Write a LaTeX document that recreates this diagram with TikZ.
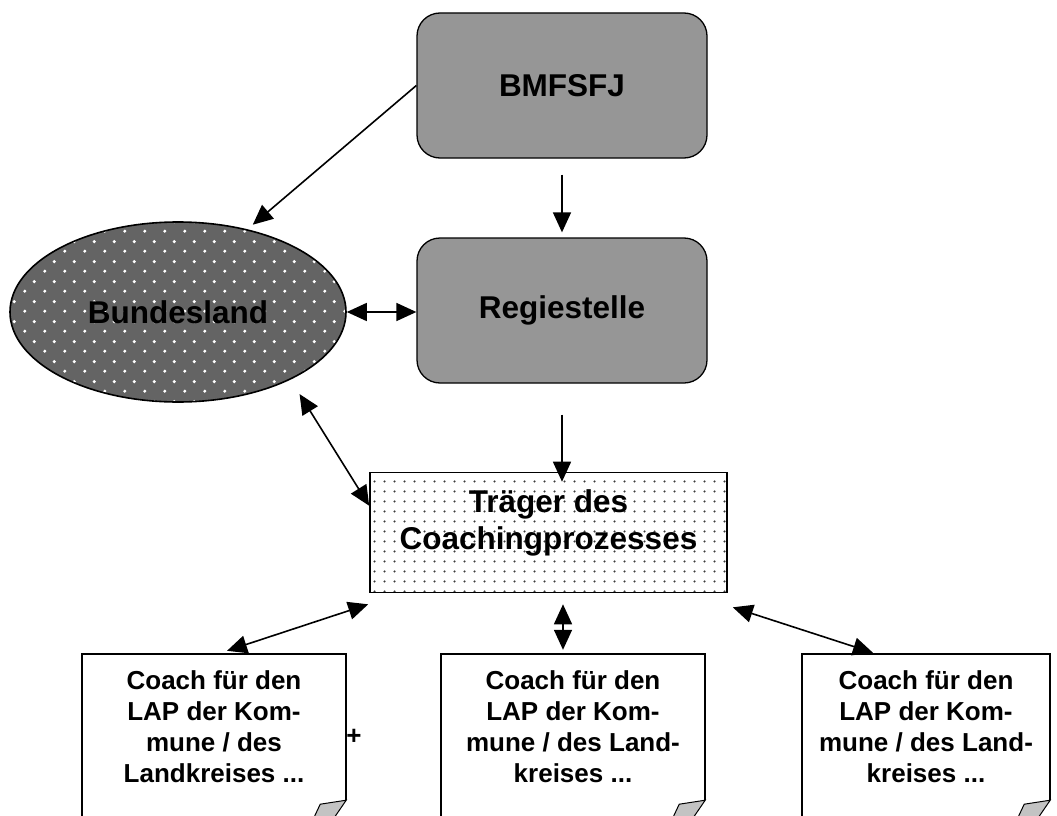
\documentclass[tikz,border=0pt]{standalone}
\usepackage{fontspec}
\setmainfont{Liberation Sans}
\usetikzlibrary{shapes.geometric,arrows.meta,calc,patterns}

\pgfdeclarepatternformonly{wdots}{\pgfqpoint{0pt}{0pt}}{\pgfqpoint{20pt}{20pt}}{\pgfqpoint{20pt}{20pt}}{%
  \pgfpathcircle{\pgfqpoint{5pt}{5pt}}{1.8pt}\pgfpathcircle{\pgfqpoint{15pt}{15pt}}{1.8pt}\pgfusepath{fill}}
\pgfdeclarepatternformonly{tdots}{\pgfqpoint{0pt}{0pt}}{\pgfqpoint{10pt}{10pt}}{\pgfqpoint{10pt}{10pt}}{%
  \pgfpathcircle{\pgfqpoint{5pt}{5pt}}{1.25pt}\pgfusepath{fill}}

\definecolor{boxgray}{RGB}{150,150,150}
\definecolor{bldark}{RGB}{100,100,100}
\definecolor{dotcol}{RGB}{60,60,60}
\definecolor{foldgray}{RGB}{195,195,195}

\begin{document}
\begin{tikzpicture}[x=1pt,y=-1pt,
  mainfont/.style={font=\fontsize{31.5}{37}\selectfont\bfseries},
  notefont/.style={font=\fontsize{26}{31}\selectfont\bfseries},
  roundbox/.style={draw, line width=1.3pt, fill=boxgray, rounded corners=23pt,
    minimum width=290pt, minimum height=145pt, inner sep=0pt, mainfont},
  landshape/.style={ellipse, draw, line width=1.6pt, preaction={fill=bldark},
    pattern=wdots, pattern color=white, minimum width=336pt, minimum height=180pt, inner sep=0pt},
  traegerbox/.style={draw, line width=1.6pt, pattern=tdots, pattern color=dotcol,
    minimum width=357pt, minimum height=120pt, inner sep=0pt},
  notebox/.style={minimum height=146pt, inner sep=0pt, align=center, notefont},
  noteline/.style={line width=1.6pt, line join=miter},
  fold/.style={line width=1pt, fill=foldgray, draw=black},
  arr/.style={line width=1.6pt, -{Triangle[length=20pt,width=18pt]}},
  darr/.style={line width=1.6pt, {Triangle[length=20pt,width=18pt]}-{Triangle[length=20pt,width=18pt]}},
]
\clip (0,0) rectangle (1057,816);

% top boxes
\node[roundbox] (bm) at (562,85.5) {BMFSFJ};
\node[roundbox] (rs) at (562,310.5) {Regiestelle};

% Bundesland
\node[landshape] (bl) at (178,312) {};
\node[mainfont] (blt) at (bl.center) {Bundesland};

% Traeger
\node[traegerbox] (tr) at (548.5,532.5) {};
\node[mainfont, align=center] (trt) at ($(tr.center)+(0,-9.5)$) {Träger des\\Coachingprozesses};

% notes
\node[notebox, minimum width=264pt] (n1) at (214,727) {Coach für den\\LAP der Kom-\\mune / des\\Landkreises ...};
\node[notebox, minimum width=264pt] (n2) at (573,727) {Coach für den\\LAP der Kom-\\mune / des Land-\\kreises ...};
\node[notebox, minimum width=248pt] (n3) at (926,727) {Coach für den\\LAP der Kom-\\mune / des Land-\\kreises ...};

\foreach \n in {n1,n2,n3}{
  \draw[noteline] ($(\n.south west)+(0,40)$) -- (\n.north west) -- (\n.north east) -- (\n.south east);
  \filldraw[fold] (\n.south east) -- ++(-26,4) -- ++(-7,15) -- ++(20,0) -- cycle;
}

\node[notefont] (plus) at (354,737) {+};

% connectors
\draw[arr, shorten >=7pt] (bm.west) -- (bl.50);
\draw[arr, shorten <=16pt, shorten >=5pt] (bm.south) -- (rs.north);
\draw[darr] (bl.east) -- (bl.east -| rs.west);
\draw[arr, shorten <=31pt, shorten >=-10pt] (rs.south) -- (rs.south |- tr.north);
\draw[darr, shorten <=17pt] (bl.-31.6) -- ($(tr.north west)!0.28!(tr.south west)$);
\draw[darr] ($(tr.south west)+(-1,11)$) -- ($(n1.north)+(13,-3)$);
\draw[darr] ($(tr.south)+(14.5,11)$) -- ($(n2.north)+(-10,-4)$);
\draw[darr] ($(tr.south east)+(5,14)$) -- ($(n3.north)+(-53,-1)$);
\end{tikzpicture}
\end{document}
